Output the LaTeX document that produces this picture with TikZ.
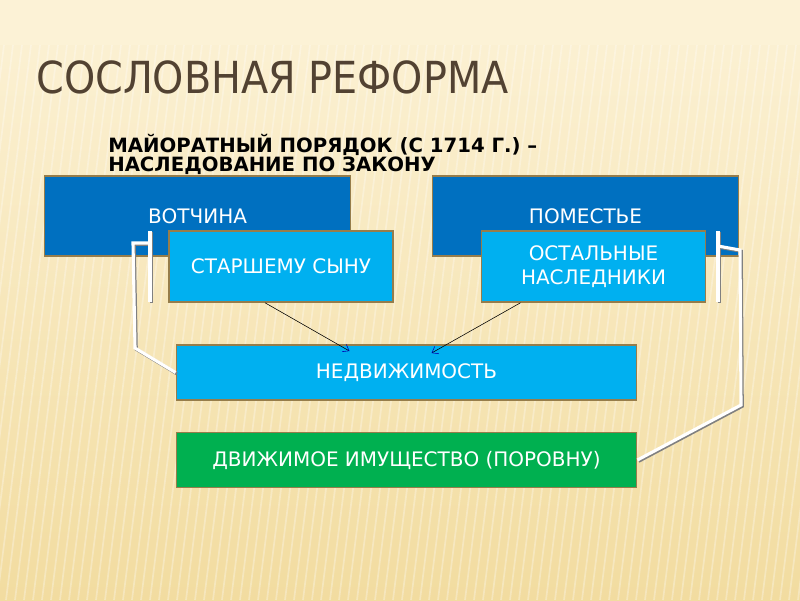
\documentclass[tikz,border=0pt]{standalone}
\usepackage{fontspec}
\setmainfont{DejaVu Sans}
\newfontfamily\titlefont{DejaVu Sans Condensed}
\usetikzlibrary{calc,arrows.meta}
\definecolor{darkblue}{RGB}{0,112,192}
\definecolor{lightblue}{RGB}{0,176,240}
\definecolor{boxgreen}{RGB}{0,176,80}
\definecolor{boxedge}{RGB}{150,125,75}
\definecolor{titlebrown}{RGB}{82,66,50}
\definecolor{bgtop}{RGB}{252,242,214}
\definecolor{bgbottom}{RGB}{242,220,160}

\tikzset{
	box/.style={draw=boxedge, line width=1.2pt, text=white, align=center, inner sep=0pt, font=\fontsize{14.2}{17}\selectfont},
	bigbox/.style={box, fill=darkblue, minimum width=7.65cm, minimum height=2cm},
	smallbox/.style={box, fill=lightblue, minimum width=5.6cm, minimum height=1.77cm},
	widebox/.style={box, minimum width=11.5cm, minimum height=1.38cm},
	thinarrow/.style={line width=0.4pt, -{Straight Barb[length=4pt, width=6pt, color=blue!70!black]}},
	bracket/.style={white, line width=2.2pt},
	bracketshadow/.style={black!50, line width=2.2pt, transform canvas={shift={(0.9pt,-0.9pt)}}}
}

\begin{document}
\begin{tikzpicture}[x=0.025cm, y=-0.025cm]
		%%%%% BACKGROUND %%%%%
		\useasboundingbox (0, 0) rectangle (800, 600);
		\shade[top color=bgtop, bottom color=bgbottom] (0, 0) rectangle (800, 600);
		\fill[bgtop] (0, 0) rectangle (800, 45);
		\foreach \i in {-120,-111,...,800}
			\draw[white, opacity=0.3, line width=1.2pt] (\i, 600) -- (\i+70, 45);
		
		%%%%% TITLE %%%%%
		\node[anchor=base west, inner sep=0pt, text=titlebrown, font=\titlefont\fontsize{31.4}{31.4}\selectfont] (title) at (36, 93) {СОСЛОВНАЯ РЕФОРМА};
		\node[anchor=base west, inner sep=0pt, align=left, font=\bfseries\fontsize{14}{13.5}\selectfont] (sub) at (108, 171) {МАЙОРАТНЫЙ ПОРЯДОК (С 1714 Г.) –\\НАСЛЕДОВАНИЕ ПО ЗАКОНУ};
		
		%%%%% BOXES %%%%%
		\node[bigbox] (votchina) at (197.5, 216) {ВОТЧИНА};
		\node[bigbox] (pomestie) at (585.5, 216) {ПОМЕСТЬЕ};
		
		\node[smallbox] (son) at (281, 266.5) {СТАРШЕМУ СЫНУ};
		\node[smallbox] (heirs) at (593.5, 266.5) {ОСТАЛЬНЫЕ\\НАСЛЕДНИКИ};
		
		\node[widebox, fill=lightblue] (estate) at (406.5, 372.5) {НЕДВИЖИМОСТЬ};
		\node[widebox, fill=boxgreen] (movable) at (406.5, 460) {ДВИЖИМОЕ ИМУЩЕСТВО (ПОРОВНУ)};
		
		%%%%% ARROWS %%%%%
		\draw[thinarrow] ($(son.south)+(-16, 0)$) -- ($(estate.north)+(-57, 7)$);
		\draw[thinarrow] ($(heirs.south)+(-73, 0)$) -- ($(estate.north)+(25, 9)$);
		
		%%%%% BRACKETS %%%%%
		\coordinate (ltop) at (150, 231);
		\coordinate (lbot) at (150, 302);
		\coordinate (lmid) at (150, 243);
		\coordinate (rtop) at (718, 231);
		\coordinate (rbot) at (718, 302);
		\coordinate (rmid) at (718, 246);
		
		\draw[bracketshadow] (ltop) -- (lbot);
		\draw[bracketshadow] (lmid) -- (133, 243) -- (135, 348) -- (estate.west);
		\draw[bracket] (ltop) -- (lbot);
		\draw[bracket] (lmid) -- (133, 243) -- (135, 348) -- (estate.west);
		
		\draw[bracketshadow] (rtop) -- (rbot);
		\draw[bracketshadow] (rmid) -- (740, 250) -- (741, 405) -- (movable.east);
		\draw[bracket] (rtop) -- (rbot);
		\draw[bracket] (rmid) -- (740, 250) -- (741, 405) -- (movable.east);
		
		%%%%% END %%%%%
	\end{tikzpicture}
\end{document}
